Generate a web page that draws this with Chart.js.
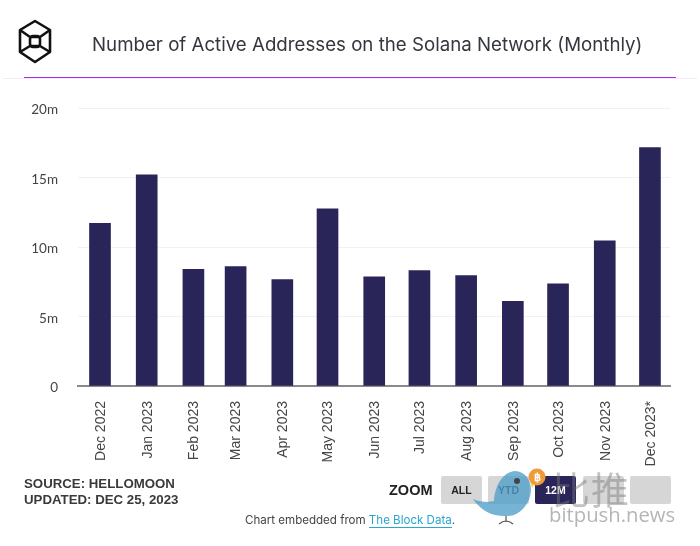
<!DOCTYPE html>
<html><head><meta charset="utf-8">
<script src="https://cdn.jsdelivr.net/npm/chart.js@4"></script>
<style>
html,body{margin:0;padding:0;background:#fff;width:700px;height:546px;overflow:hidden}
#wrap{position:relative;width:700px;height:546px}
canvas{position:absolute;left:0;top:0}
.t{position:absolute;white-space:nowrap}
#title{left:92px;top:33px;font:400 18.7px Inter,Roboto,sans-serif;color:#35373f}
#rule{position:absolute;left:24px;top:77px;width:652px;height:1px;background:#a030e8}
#rule2{position:absolute;left:3px;top:78px;width:694px;height:1px;background:#f6e9fb}
#src{left:24px;top:476px;font:700 13.25px/15.5px "Liberation Sans",Arial,sans-serif;color:#3a3a3a}
#zoom{left:389px;top:482px;font:700 14.5px "Liberation Sans",Arial,sans-serif;color:#222}
.b{position:absolute;top:476px;width:41px;height:28px;border-radius:2px;background:#d6d6d6;color:#222;
 font:700 10.5px/28px "Liberation Sans",Arial,sans-serif;text-align:center}
#emb{left:245px;top:513px;font:11.55px Inter,Roboto,sans-serif;color:#444}
#emb a{color:#2aa6cf;text-decoration:none;border-bottom:1px solid #2aa6cf}
#wm1{left:552px;top:460px;font:38px "Noto Sans CJK SC",sans-serif;color:rgba(120,120,120,.45);letter-spacing:1px}
#wm2{left:549px;top:500px;font:20.3px "Open Sans",Roboto,sans-serif;color:rgba(150,150,150,.7)}
svg{position:absolute}
</style></head><body>
<div id="wrap">
<canvas id="c" width="700" height="546"></canvas>
<svg style="left:17px;top:18px" width="36" height="47" viewBox="0 0 36 47" fill="none" stroke="#111" stroke-width="2.6" stroke-linejoin="round">
<path d="M18 3 L33 12 V34 L18 44 L3 34 V12 Z"/><path d="M3 12 L13 19 M33 12 L23 19 M3 34 L13 28 M33 34 L23 28 M13 19 H23 M13 28 H23"/><rect x="13" y="18" width="10" height="11" rx="3"/>
</svg>
<div class="t" id="title">Number of Active Addresses on the Solana Network (Monthly)</div>
<div id="rule2"></div><div id="rule"></div>
<div class="t" id="src">SOURCE: HELLOMOON<br>UPDATED: DEC 25, 2023</div>
<div class="t" id="zoom">ZOOM</div>
<div class="b" style="left:441px">ALL</div>
<div class="b" style="left:488px">YTD</div>
<div class="b" style="left:535px;background:#2a2559;color:#fff">12M</div>
<div class="b" style="left:583px"></div>
<div class="b" style="left:630px"></div>
<div class="t" id="emb">Chart embedded from <a>The Block Data</a>.</div>
<svg style="left:465px;top:465px" width="85" height="60" viewBox="0 0 85 60">
<path d="M8 34 C18 38 24 37 29 36 C30 20 38 7 50 6 C60 6 66 16 66 24 C66 38 55 51 43 51 C28 52 16 46 8 34Z" fill="#4f9fca" fill-opacity=".78"/>
<path d="M65 15 L74 10 L67 23Z" fill="#f3d34a"/>
<circle cx="52" cy="16" r="3" fill="#444"/>
<path d="M41 51 V57 M34 59 Q41 53 48 59" stroke="#555" stroke-width="1.2" fill="none"/>
<circle cx="72" cy="12" r="8.5" fill="#ee9b3a"/>
<text x="72" y="16" font-size="11" font-family="Liberation Sans" font-weight="700" fill="#fff" text-anchor="middle">฿</text>
</svg>
<div class="t" id="wm1">比推</div>
<div class="t" id="wm2">bitpush.news</div>
</div>
<script>
const categories = ["Dec 2022","Jan 2023","Feb 2023","Mar 2023","Apr 2023","May 2023","Jun 2023","Jul 2023","Aug 2023","Sep 2023","Oct 2023","Nov 2023","Dec 2023*"];
const dayOffsets = [0,31,62,90,121,151,182,212,243,274,304,335,365];
const activeAddresses = [11.7,15.2,8.4,8.6,7.65,12.75,7.85,8.3,7.95,6.1,7.35,10.45,17.15];
const yTicks = [0,5,10,15,20];

new Chart(document.getElementById('c'),{
  type:'bar',
  data:{datasets:[{
    data:dayOffsets.map((d,i)=>({x:d,y:activeAddresses[i]})),
    backgroundColor:'#2a2559',borderWidth:0,barThickness:21
  }]},
  options:{
    responsive:false,animation:false,
    layout:{padding:{left:0,right:30,top:108,bottom:0}},
    plugins:{legend:{display:false},tooltip:{enabled:false}},
    scales:{
      x:{type:'linear',offset:false,min:-14.6,max:378.3,
        grid:{display:false,drawTicks:false},
        border:{color:'#8a8a8a',width:2},
        afterBuildTicks(s){s.ticks=dayOffsets.map(v=>({value:v}));},
        afterFit(s){s.height=160;},
        ticks:{autoSkip:false,minRotation:90,maxRotation:90,padding:15,labelOffset:1,color:'#444',
          font:{family:'"Liberation Sans",Arial,sans-serif',size:14},
          callback:v=>categories[dayOffsets.indexOf(v)]}
      },
      y:{min:0,max:20,
        afterBuildTicks(s){s.ticks=yTicks.map(v=>({value:v}));},
        afterFit(s){s.width=78;},
        grid:{color:'#f1f1f1',lineWidth:1,drawTicks:false},
        border:{display:false},
        ticks:{padding:20,labelOffset:2,color:'#444',font:{family:'Lato,sans-serif',size:13.5},
          callback:v=>v===0?'0':v+'m'}
      }
    }
  }
});
</script>
</body></html>
